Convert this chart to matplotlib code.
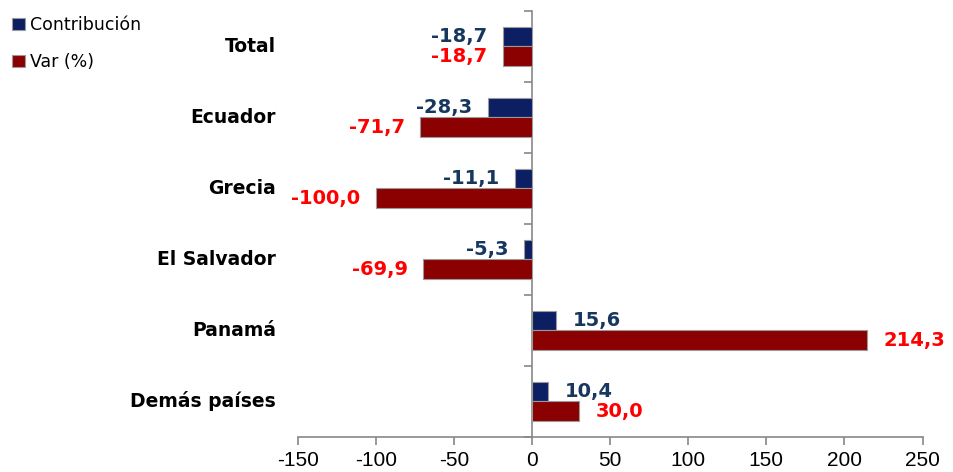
import matplotlib
matplotlib.use("Agg")
import matplotlib.pyplot as plt
import numpy as np

# values
paises = ["Total", "Ecuador", "Grecia", "El Salvador", "Panamá", "Demás países"]
contribucion = [-18.7, -28.3, -11.1, -5.3, 15.6, 10.4]
variacion = [-18.7, -71.7, -100.0, -69.9, 214.3, 30.0]
xticks = [-150, -100, -50, 0, 50, 100, 150, 200, 250]

AZUL = "#0c1f63"
ROJO = "#8b0000"
AZUL_TXT = "#17375e"
ROJO_TXT = "#ff0000"

fig = plt.figure(figsize=(9.54, 4.72), dpi=100)
ax = fig.add_axes([0.312, 0.0742, 0.655, 0.9025])

n = len(paises)
ypos = np.arange(n)[::-1].astype(float)
h = 0.28
b1 = ax.barh(ypos + h / 2, contribucion, height=h, color=AZUL,
             edgecolor="#9a9a9a", linewidth=0.8, label="Contribución", zorder=3)
b2 = ax.barh(ypos - h / 2, variacion, height=h, color=ROJO,
             edgecolor="#9a9a9a", linewidth=0.8, label="Var (%)", zorder=3)

def fmt(v):
    return f"{v:.1f}".replace(".", ",")

for bars, vals, col in ((b1, contribucion, AZUL_TXT), (b2, variacion, ROJO_TXT)):
    for rect, v in zip(bars, vals):
        y = rect.get_y() + rect.get_height() / 2
        off = 12 if v >= 0 else -11
        ax.annotate(fmt(v), (v, y), textcoords="offset points",
                    xytext=(off, 0), ha="left" if v >= 0 else "right",
                    va="center", fontsize=14, fontweight="bold", color=col,
                    annotation_clip=False)

ax.set_xlim(-150, 250)
ax.set_ylim(-0.5, n - 0.5)
ax.set_xticks(xticks)
ax.set_xticklabels([str(t) for t in xticks], fontsize=15, family="Liberation Sans")
ax.tick_params(axis="x", length=6, color="#888888", width=1.2, pad=4)

# category boundaries as y ticks on the spine at zero
ax.set_yticks(np.arange(-0.5, n, 1.0))
ax.set_yticklabels([])
ax.tick_params(axis="y", length=6, color="#888888", width=1.2)
for y, name in zip(ypos, paises):
    ax.text(-0.035, y, name, transform=ax.get_yaxis_transform(), ha="right",
            va="center", fontsize=13.5, fontweight="bold", color="black")

for s in ("top", "right"):
    ax.spines[s].set_visible(False)
ax.spines["left"].set_position(("data", 0))
ax.spines["left"].set_color("#888888")
ax.spines["left"].set_linewidth(1.2)
ax.spines["bottom"].set_color("#888888")
ax.spines["bottom"].set_linewidth(1.2)

fig.legend(handles=[b1, b2], loc="upper left", bbox_to_anchor=(0.0, 0.992),
           frameon=False, fontsize=12.5, handlelength=0.75, handleheight=0.75,
           handletextpad=0.25, labelspacing=1.1, borderaxespad=0.3)

fig.savefig("out.png", dpi=100)
